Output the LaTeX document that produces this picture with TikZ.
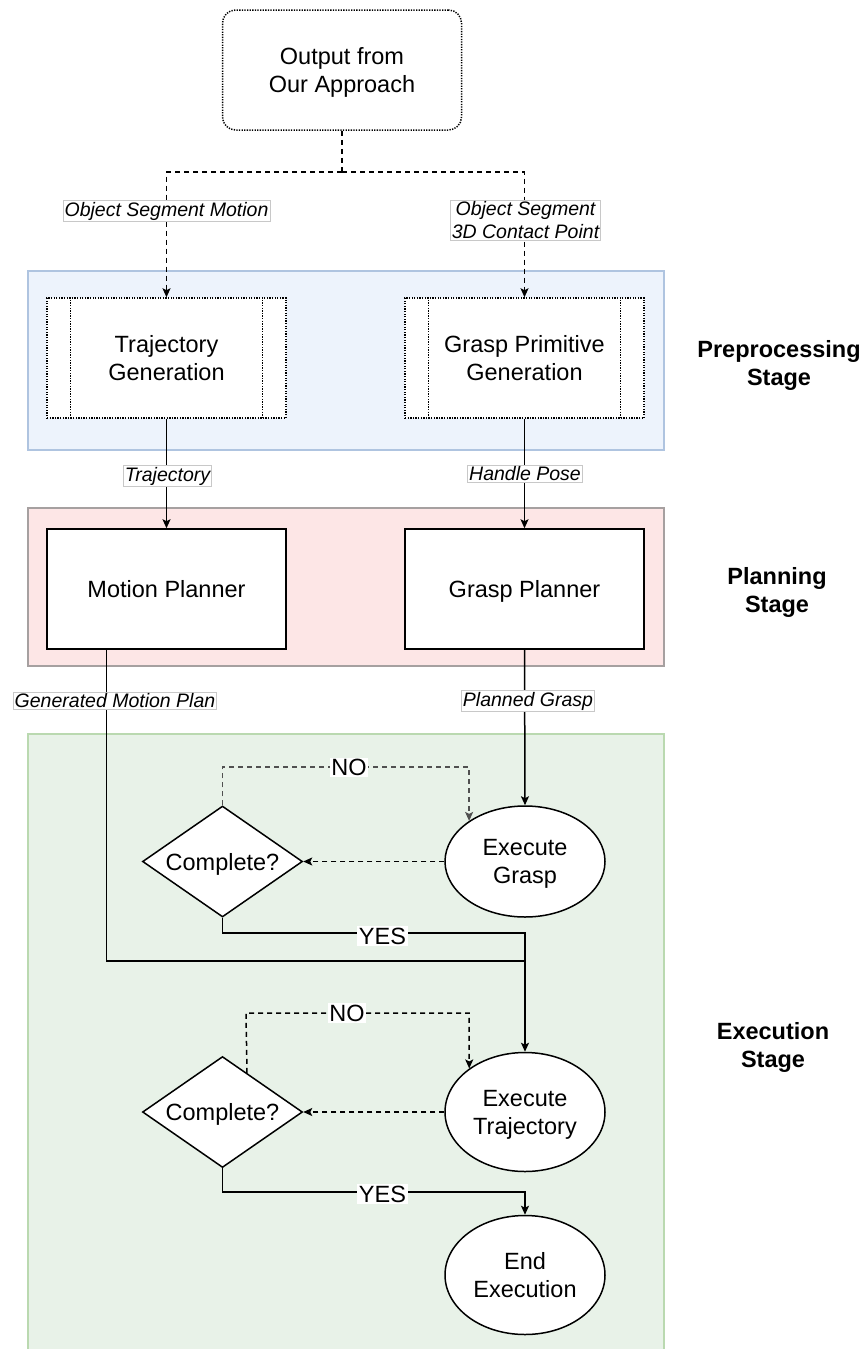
\documentclass[tikz,border=0pt]{standalone}
\usepackage{fontspec}
\setmainfont{Liberation Sans}
\usetikzlibrary{shapes.geometric,arrows.meta,calc}
\definecolor{bluefill}{HTML}{EDF3FC}
\definecolor{bluedraw}{HTML}{AFC4E0}
\definecolor{redfill}{HTML}{FDE6E6}
\definecolor{reddraw}{HTML}{A6A0A0}
\definecolor{greenfill}{HTML}{E8F2E8}
\definecolor{greendraw}{HTML}{BAD9B0}
\definecolor{lblgray}{HTML}{C8C8C8}
\definecolor{nogray}{HTML}{505050}
\newcommand{\mainsz}{\fontsize{23.5}{28}\selectfont}
\newcommand{\lblsz}{\fontsize{19.5}{23}\selectfont}
\newcommand{\nodepth}[1]{\raisebox{0pt}[\height][0pt]{#1}}
\begin{document}
\begin{tikzpicture}[x=1pt,y=-1pt,
  stagebg/.style={line width=2pt},
  box/.style={draw, line width=1.5pt, fill=white, minimum width=239pt, minimum height=120pt, align=center, font=\mainsz, inner sep=0pt},
  dotpat/.style={dash pattern=on 1.3pt off 1.3pt},
  ell/.style={ellipse, draw, fill=white, line width=1.5pt, minimum width=160pt, inner sep=0pt, align=center, font=\mainsz},
  dia/.style={diamond, aspect=1.44, draw, fill=white, line width=1.5pt, minimum width=160pt, minimum height=111pt, inner sep=0pt, font=\mainsz},
  conn/.style={line width=1.5pt, -{Stealth[length=9pt,width=8pt,inset=2pt]}},
  plain/.style={line width=1.5pt},
  dashpat/.style={dash pattern=on 5pt off 4pt},
  elabel/.style={fill=white, draw=lblgray, line width=0.7pt, font=\lblsz\itshape, inner sep=1.5pt, align=center},
  yn/.style={fill=white, font=\mainsz, inner sep=1.5pt},
  stage/.style={font=\mainsz\bfseries, align=center}
]
\useasboundingbox (0,0) rectangle (867,1349);
\fill[white] (0,0) rectangle (867,1349);

% stage backgrounds
\draw[stagebg, fill=bluefill, draw=bluedraw] (28,271) rectangle (664,450);
\draw[stagebg, fill=redfill, draw=reddraw] (28,508) rectangle (664,666);
\draw[stagebg, fill=greenfill, draw=greendraw] (28,734) rectangle (664,1365);

% nodes
\node[box, dotpat, rounded corners=13pt] (top) at (342,70) {Output from\\\nodepth{Our Approach}};
\node[box, dotpat] (tg) at (166.5,358) {Trajectory\\\nodepth{Generation}};
\node[box, dotpat] (gp) at (524.5,358) {Grasp Primitive\\\nodepth{Generation}};
\draw[line width=1.4pt, dotpat] ($(tg.north west)+(24,0)$) -- ($(tg.south west)+(24,0)$);
\draw[line width=1.4pt, dotpat] ($(tg.north east)+(-24,0)$) -- ($(tg.south east)+(-24,0)$);
\draw[line width=1.4pt, dotpat] ($(gp.north west)+(24,0)$) -- ($(gp.south west)+(24,0)$);
\draw[line width=1.4pt, dotpat] ($(gp.north east)+(-24,0)$) -- ($(gp.south east)+(-24,0)$);

\node[box, text height=17pt, text depth=0pt] (mp) at (166.5,589) {Motion Planner};
\node[box, text height=17pt, text depth=0pt] (gpl) at (524.5,589) {Grasp Planner};

\node[ell, minimum height=111pt] (eg) at (525,861.5) {Execute\\\nodepth{Grasp}};
\node[dia] (d1) at (222.5,861.5) {\nodepth{Complete?}};
\node[ell, minimum height=119pt] (et) at (525,1112) {Execute\\\nodepth{Trajectory}};
\node[dia] (d2) at (222.5,1112) {\nodepth{Complete?}};
\node[ell, minimum height=119pt] (ee) at (525,1275) {End\\\nodepth{Execution}};

% connectors top
\coordinate (split) at (342,172);
\draw[plain, dashpat] (top.south) -- (split);
\draw[conn, dashpat] (split) -| (tg.north);
\draw[conn, dashpat] (split) -| (gp.north);
\node[elabel] (l1) at (166.5,211) {Object Segment Motion};
\node[elabel] (l2) at (525.5,220.5) {Object Segment\\3D Contact Point};

\draw[conn] (tg.south) -- (mp.north);
\draw[conn] (gp.south) -- (gpl.north);
\node[elabel] (l3) at (167.5,476) {Trajectory};
\node[elabel] (l4) at (525,474) {Handle Pose};

% planner outputs
\coordinate (mpout) at ($(mp.south west)+(60,0)$);
\coordinate (jn) at (525,961);
\coordinate (y1c) at (525,933);
\draw[conn] (gpl.south) -- (eg.north);
\draw[plain] (d1.south) |- (y1c) -- (jn);
\draw[conn] (mpout) |- (jn) -- (et.north);
\node[elabel] (l5) at (115,701) {Generated Motion Plan};
\node[elabel] (l6) at (528,701) {Planned Grasp};

% execution loop 1
\draw[conn, dashpat] (eg.west) -- (d1.east);
\coordinate (no1) at (222.5,767);
\draw[conn, dashpat, draw=nogray] (d1.north) -- (no1) -| (eg.144.5);
\node[yn] (nl1) at (349,767.5) {NO};
\node[yn] (yl1) at (382.5,936) {YES};

% execution loop 2
\draw[conn, dashpat] (et.west) -- (d2.east);
\coordinate (no2) at (246,1013);
\draw[conn, dashpat] (d2.58.5) -- (no2) -| (et.142.6);
\node[yn] (nl2) at (347,1013) {NO};
\coordinate (y2c) at (525,1192);
\draw[conn] (d2.south) |- (y2c) -- (ee.north);
\node[yn] (yl2) at (382.5,1194) {YES};

% stage labels
\node[stage] (s1) at (779,365) {Preprocessing\\Stage};
\node[stage] (s2) at (777,592) {Planning\\Stage};
\node[stage] (s3) at (773,1047) {Execution\\Stage};
\end{tikzpicture}
\end{document}
